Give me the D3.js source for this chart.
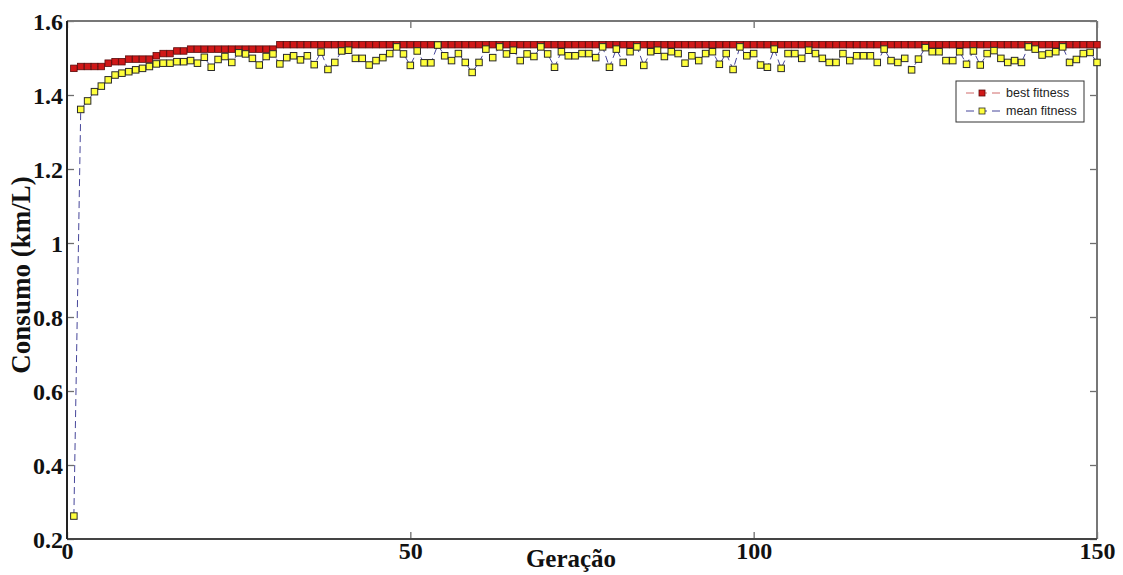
<!DOCTYPE html>
<html>
<head>
<meta charset="utf-8">
<script src="https://cdn.jsdelivr.net/npm/d3@7"></script>
<style>
  html, body { margin: 0; padding: 0; background: #ffffff; }
  svg { display: block; }
</style>
</head>
<body>
<svg id="chart" width="1123" height="575"></svg>
<script>
// Generations 1..150
const generations = d3.range(1, 151);

// Best fitness per generation
const bestFitness = [
  1.472, 1.477, 1.477, 1.477, 1.477, 1.486, 1.490, 1.490, 1.497, 1.497,
  1.497, 1.497, 1.506, 1.512, 1.512, 1.519, 1.519, 1.524, 1.524, 1.524,
  1.524, 1.524, 1.524, 1.524, 1.524, 1.524, 1.524, 1.524, 1.524, 1.524,
  1.536, 1.536, 1.536, 1.536, 1.536, 1.536, 1.536, 1.536, 1.536, 1.536,
  1.536, 1.536, 1.536, 1.536, 1.536, 1.536, 1.536, 1.536, 1.536, 1.536,
  1.536, 1.536, 1.536, 1.536, 1.536, 1.536, 1.536, 1.536, 1.536, 1.536,
  1.536, 1.536, 1.536, 1.536, 1.536, 1.536, 1.536, 1.536, 1.536, 1.536,
  1.536, 1.536, 1.536, 1.536, 1.536, 1.536, 1.536, 1.536, 1.536, 1.536,
  1.536, 1.536, 1.536, 1.536, 1.536, 1.536, 1.536, 1.536, 1.536, 1.536,
  1.536, 1.536, 1.536, 1.536, 1.536, 1.536, 1.536, 1.536, 1.536, 1.536,
  1.536, 1.536, 1.536, 1.536, 1.536, 1.536, 1.536, 1.536, 1.536, 1.536,
  1.536, 1.536, 1.536, 1.536, 1.536, 1.536, 1.536, 1.536, 1.536, 1.536,
  1.536, 1.536, 1.536, 1.536, 1.536, 1.536, 1.536, 1.536, 1.536, 1.536,
  1.536, 1.536, 1.536, 1.536, 1.536, 1.536, 1.536, 1.536, 1.536, 1.536,
  1.536, 1.536, 1.536, 1.536, 1.536, 1.536, 1.536, 1.536, 1.536, 1.536
];

// Mean fitness per generation
const meanFitness = [
  0.262, 1.361, 1.384, 1.409, 1.424, 1.441, 1.454, 1.459, 1.463, 1.468,
  1.472, 1.477, 1.484, 1.486, 1.486, 1.490, 1.490, 1.493, 1.486, 1.502,
  1.475, 1.496, 1.504, 1.488, 1.514, 1.511, 1.499, 1.481, 1.504, 1.511,
  1.484, 1.501, 1.506, 1.495, 1.506, 1.482, 1.516, 1.469, 1.488, 1.519,
  1.521, 1.499, 1.499, 1.481, 1.493, 1.501, 1.512, 1.530, 1.511, 1.480,
  1.519, 1.487, 1.487, 1.535, 1.506, 1.493, 1.512, 1.488, 1.461, 1.488,
  1.524, 1.501, 1.530, 1.511, 1.521, 1.493, 1.511, 1.504, 1.530, 1.511,
  1.475, 1.517, 1.506, 1.506, 1.512, 1.512, 1.501, 1.530, 1.475, 1.524,
  1.488, 1.517, 1.530, 1.480, 1.517, 1.521, 1.504, 1.517, 1.512, 1.486,
  1.506, 1.493, 1.512, 1.517, 1.483, 1.512, 1.469, 1.530, 1.506, 1.512,
  1.481, 1.475, 1.524, 1.472, 1.512, 1.512, 1.499, 1.521, 1.512, 1.499,
  1.488, 1.488, 1.512, 1.493, 1.506, 1.506, 1.506, 1.488, 1.524, 1.493,
  1.488, 1.499, 1.468, 1.497, 1.528, 1.517, 1.517, 1.493, 1.493, 1.517,
  1.483, 1.519, 1.481, 1.512, 1.520, 1.499, 1.488, 1.493, 1.488, 1.530,
  1.524, 1.508, 1.512, 1.517, 1.530, 1.488, 1.496, 1.512, 1.515, 1.488
];

const xTicks = [0, 50, 100, 150];
const yTicks = [0.2, 0.4, 0.6, 0.8, 1.0, 1.2, 1.4, 1.6];
const yTickLabels = ["0.2", "0.4", "0.6", "0.8", "1", "1.2", "1.4", "1.6"];
const seriesNames = ["best fitness", "mean fitness"];

const svg = d3.select("#chart");
const plot = { left: 67, right: 1097, top: 21, bottom: 539 };

const x = d3.scaleLinear().domain([0, 150]).range([plot.left, plot.right]);
const y = d3.scaleLinear().domain([0.2, 1.6]).range([plot.bottom, plot.top]);

const serif = "'Liberation Serif', 'Times New Roman', serif";
const tickLen = 7;

// Axes with inward tick marks on all four sides
const axisBottom = d3.axisBottom(x).tickValues(xTicks).tickSize(-tickLen).tickFormat(d3.format("d"));
const axisTop = d3.axisTop(x).tickValues(xTicks).tickSize(-tickLen).tickFormat("");
const axisLeft = d3.axisLeft(y).tickValues(yTicks).tickSize(-tickLen)
  .tickFormat((d, i) => yTickLabels[i]);
const axisRight = d3.axisRight(y).tickValues(yTicks).tickSize(-tickLen).tickFormat("");

function styleAxis(g) {
  g.select(".domain").remove();
  g.selectAll(".tick line").attr("stroke", "#6e6e6e").attr("stroke-width", 1.3);
  g.selectAll(".tick text")
    .attr("font-family", serif)
    .attr("font-weight", "bold")
    .attr("font-size", 24)
    .attr("fill", "#111");
}

const gB = svg.append("g").attr("transform", `translate(0,${plot.bottom})`).call(axisBottom).call(styleAxis);
gB.selectAll(".tick text").attr("y", 3).attr("dy", "0.71em");
const gT = svg.append("g").attr("transform", `translate(0,${plot.top})`).call(axisTop).call(styleAxis);
const gL = svg.append("g").attr("transform", `translate(${plot.left},0)`).call(axisLeft).call(styleAxis);
gL.selectAll(".tick text").attr("x", -4).attr("dy", "0.34em");
const gR = svg.append("g").attr("transform", `translate(${plot.right},0)`).call(axisRight).call(styleAxis);

// Plot frame
svg.append("line").attr("x1", plot.left).attr("x2", plot.right).attr("y1", plot.top).attr("y2", plot.top)
  .attr("stroke", "#777").attr("stroke-width", 2);
svg.append("line").attr("x1", plot.right).attr("x2", plot.right).attr("y1", plot.top).attr("y2", plot.bottom)
  .attr("stroke", "#777").attr("stroke-width", 2);
svg.append("line").attr("x1", plot.left).attr("x2", plot.right).attr("y1", plot.bottom).attr("y2", plot.bottom)
  .attr("stroke", "#444").attr("stroke-width", 2);
svg.append("line").attr("x1", plot.left).attr("x2", plot.left).attr("y1", plot.top).attr("y2", plot.bottom)
  .attr("stroke", "#222").attr("stroke-width", 2);

// Axis titles
svg.append("text")
  .attr("x", 571).attr("y", 567)
  .attr("text-anchor", "middle")
  .attr("font-family", serif).attr("font-weight", "bold").attr("font-size", 25)
  .attr("fill", "#111")
  .text("Geração");

svg.append("text")
  .attr("transform", "translate(30,275) rotate(-90)")
  .attr("text-anchor", "middle")
  .attr("font-family", serif).attr("font-weight", "bold").attr("font-size", 27)
  .attr("fill", "#111")
  .text("Consumo (km/L)");

// Series
const bestData = generations.map((g, i) => ({ g, v: bestFitness[i] }));
const meanData = generations.map((g, i) => ({ g, v: meanFitness[i] }));

const line = d3.line().x(d => x(d.g)).y(d => y(d.v));

const styles = {
  best: { line: "#d06a6a", fill: "#d01818", stroke: "#5a0a0a" },
  mean: { line: "#46469a", fill: "#ffff3c", stroke: "#2a2a2a" }
};

svg.append("path").datum(meanData).attr("d", line)
  .attr("fill", "none").attr("stroke", styles.mean.line).attr("stroke-width", 1)
  .attr("stroke-dasharray", "7,4");
svg.append("path").datum(bestData).attr("d", line)
  .attr("fill", "none").attr("stroke", styles.best.line).attr("stroke-width", 1)
  .attr("stroke-dasharray", "7,4");

const ms = 6.5;
svg.append("g").selectAll("rect").data(bestData).join("rect")
  .attr("x", d => x(d.g) - ms / 2).attr("y", d => y(d.v) - ms / 2)
  .attr("width", ms).attr("height", ms)
  .attr("fill", styles.best.fill).attr("stroke", styles.best.stroke).attr("stroke-width", 0.8);

svg.append("g").selectAll("rect").data(meanData).join("rect")
  .attr("x", d => x(d.g) - ms / 2).attr("y", d => y(d.v) - ms / 2)
  .attr("width", ms).attr("height", ms)
  .attr("fill", styles.mean.fill).attr("stroke", styles.mean.stroke).attr("stroke-width", 1);

// Legend
const legend = svg.append("g").attr("transform", "translate(956,81)");
legend.append("rect").attr("width", 128).attr("height", 41)
  .attr("fill", "#fff").attr("stroke", "#333").attr("stroke-width", 1);

const legendItems = [
  { name: seriesNames[0], s: styles.best, yy: 12 },
  { name: seriesNames[1], s: styles.mean, yy: 30 }
];
legendItems.forEach(item => {
  const g = legend.append("g").attr("transform", `translate(0,${item.yy})`);
  g.append("line").attr("x1", 10).attr("x2", 46).attr("y1", 0).attr("y2", 0)
    .attr("stroke", item.s.line).attr("stroke-width", 1).attr("stroke-dasharray", "8,5");
  g.append("rect").attr("x", 23).attr("y", -3).attr("width", 6).attr("height", 6)
    .attr("fill", item.s.fill).attr("stroke", item.s.stroke).attr("stroke-width", 0.8);
  g.append("text").attr("x", 50).attr("y", 0).attr("dy", "0.35em")
    .attr("font-family", "'Liberation Sans', Arial, sans-serif").attr("font-size", 12.5)
    .attr("fill", "#222")
    .text(item.name);
});
</script>
</body>
</html>
